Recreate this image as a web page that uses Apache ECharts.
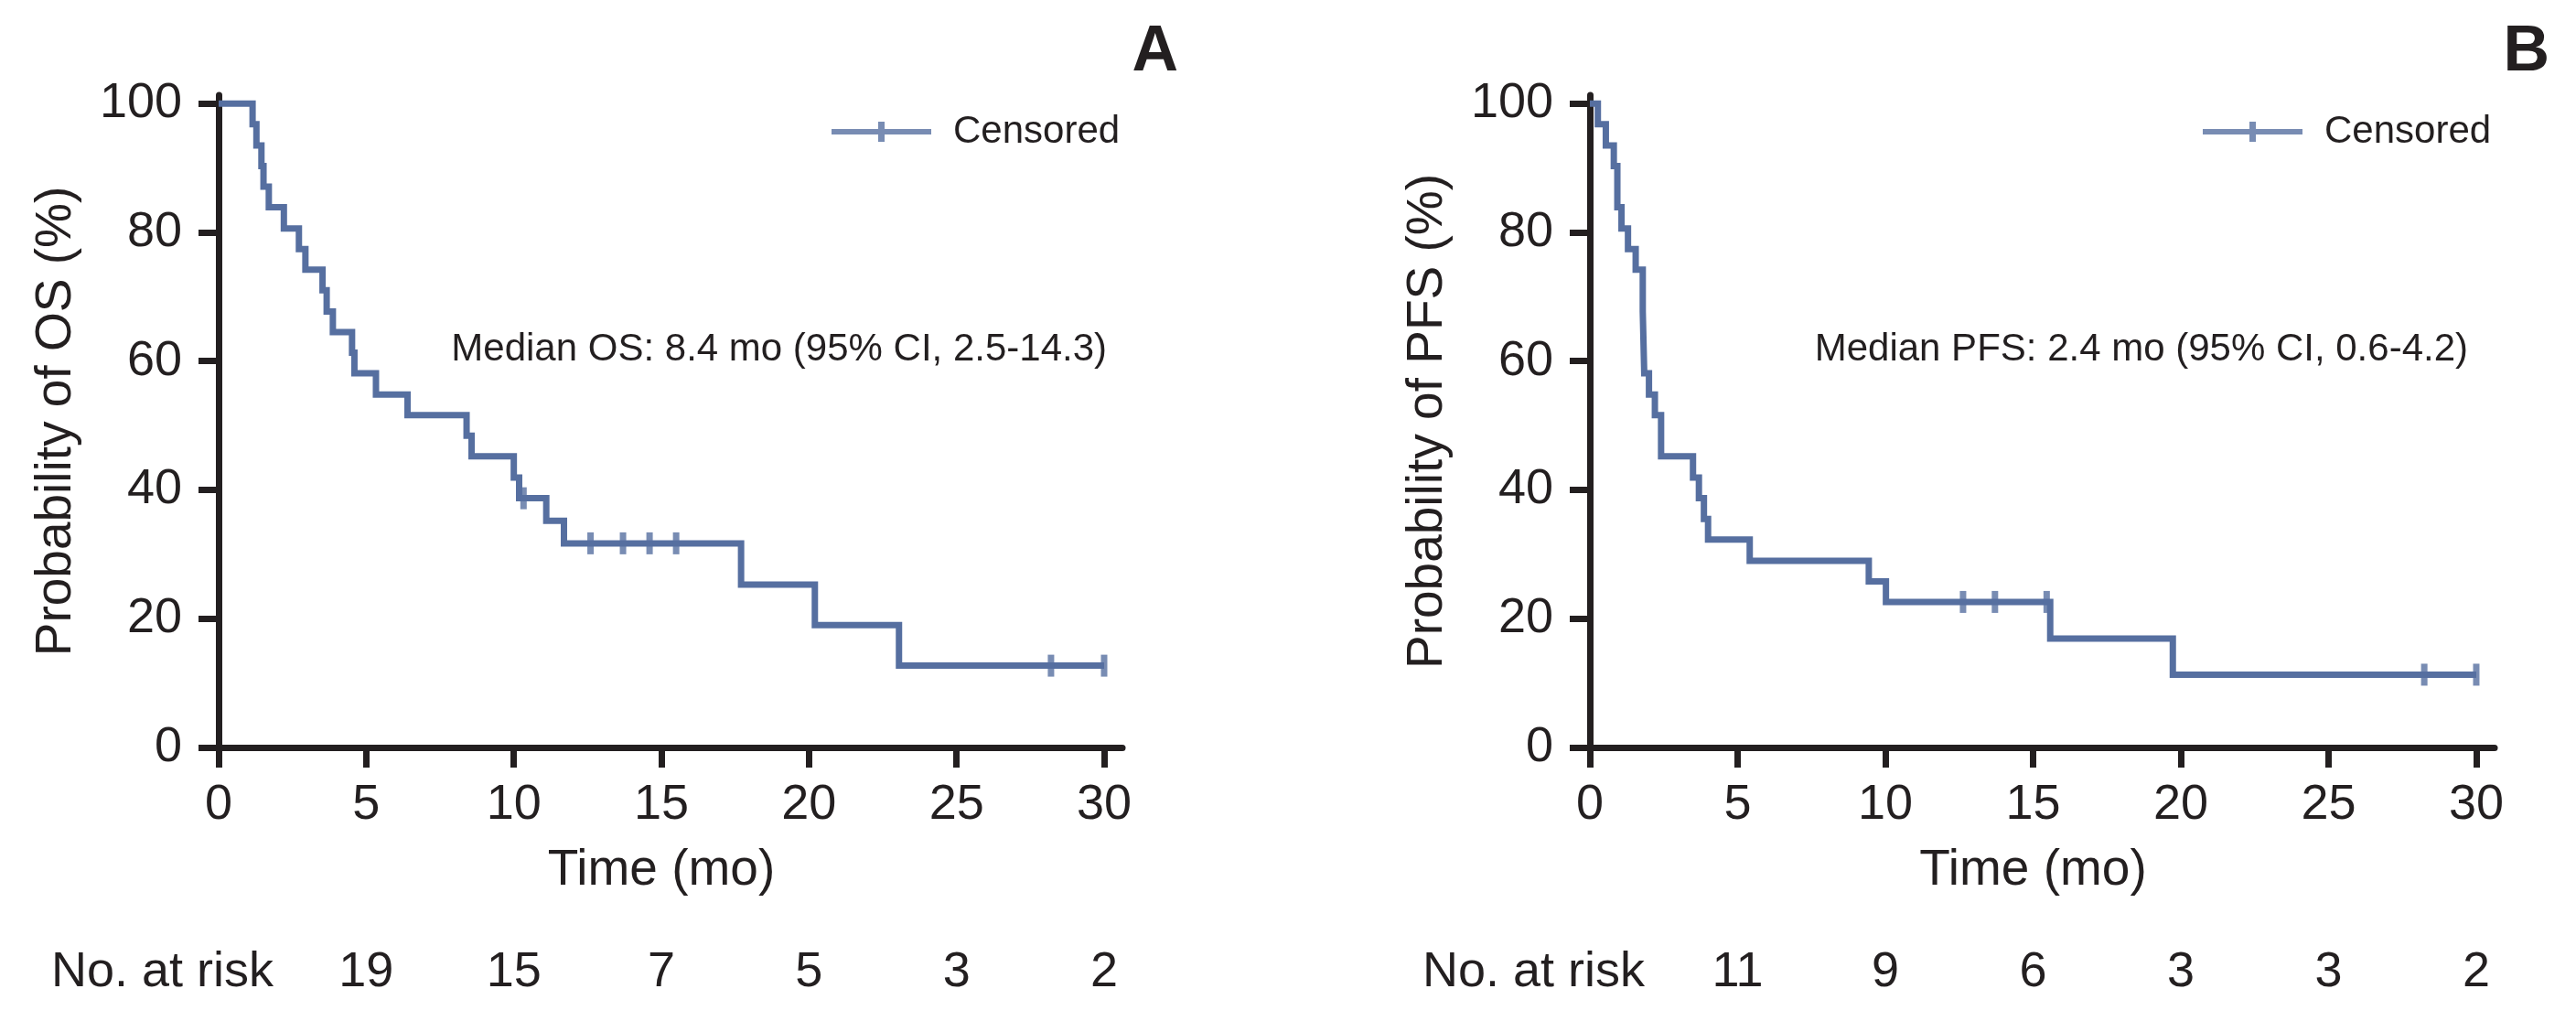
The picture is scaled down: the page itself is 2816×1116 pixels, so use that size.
<!DOCTYPE html>
<html>
<head>
<meta charset="utf-8">
<script src="https://cdn.jsdelivr.net/npm/echarts@6/dist/echarts.min.js"></script>
<style>
html,body{margin:0;padding:0;background:#fff;}
#chart{width:2816px;height:1116px;}
</style>
</head>
<body>
<div id="chart"></div>
<script>
// ---- Data ----
const xTicks = [0, 5, 10, 15, 20, 25, 30];
const yTicks = [0, 20, 40, 60, 80, 100];
const riskTicks = [5, 10, 15, 20, 25, 30];

// Panel A: overall survival
const osTimes = [0, 1.15, 1.28, 1.45, 1.52, 1.70, 2.21, 2.72, 2.94, 3.52, 3.66, 3.87, 4.52, 4.6, 5.33, 6.4, 8.4, 8.57, 10.0, 10.18, 11.1, 11.7, 17.7, 20.2, 23.05, 30];
const osSurv  = [100, 96.8, 93.5, 90.3, 87.1, 83.9, 80.6, 77.4, 74.2, 71.0, 67.7, 64.5, 61.3, 58.1, 54.8, 51.6, 48.4, 45.2, 41.9, 38.7, 35.2, 31.7, 25.3, 19.0, 12.7, 12.7];
const osCensorTimes = [10.33, 12.6, 13.7, 14.6, 15.5, 28.2, 30];
const osCensorSurv  = [38.7, 31.7, 31.7, 31.7, 31.7, 12.7, 12.7];
const osRisk = [19, 15, 7, 5, 3, 2];

// Panel B: progression-free survival
const pfsTimes = [0, 0.27, 0.54, 0.81, 0.93, 1.07, 1.29, 1.55, 1.79, 1.84, 2.0, 2.2, 2.41, 3.49, 3.69, 3.86, 4.0, 5.41, 9.44, 10.02, 15.58, 19.73, 30];
const pfsSurv  = [100, 96.8, 93.5, 90.3, 83.9, 80.6, 77.4, 74.2, 67.7, 58.1, 54.8, 51.6, 45.2, 41.9, 38.7, 35.5, 32.3, 29.0, 25.8, 22.6, 16.9, 11.3, 11.3];
const pfsCensorTimes = [12.63, 13.71, 15.46, 28.24, 30];
const pfsCensorSurv  = [22.6, 22.6, 22.6, 11.3, 11.3];
const pfsRisk = [11, 9, 6, 3, 3, 2];

const medianOS = 'Median OS: 8.4 mo (95% CI, 2.5-14.3)';
const medianPFS = 'Median PFS: 2.4 mo (95% CI, 0.6-4.2)';
const riskLabel = 'No. at risk';

// ---- Styling ----
const FONT = "'Liberation Sans', Arial, sans-serif";
const INK = '#231f20';
const CURVE = '#566fa0';
const AXW = 7;

const zip = (a, b) => a.map((v, i) => [v, b[i]]);

function mainX(grid) {
  return {
    type: 'value', gridIndex: grid, min: 0, max: 30.62,
    axisLine: { show: true, onZero: false, lineStyle: { color: INK, width: AXW } },
    axisTick: { show: true, length: 22, customValues: xTicks, lineStyle: { color: INK, width: AXW } },
    axisLabel: { show: true, customValues: xTicks, margin: 36, color: INK, fontFamily: FONT, fontSize: 54 },
    splitLine: { show: false },
    name: 'Time (mo)', nameLocation: 'middle', nameGap: 107, nameMoveOverlap: false,
    nameTextStyle: { color: INK, fontFamily: FONT, fontSize: 55, padding: [0, 20, 0, 0] }
  };
}
function riskX(grid, risk) {
  return {
    type: 'value', gridIndex: grid, min: 0, max: 30.62, position: 'bottom', offset: 245,
    axisLine: { show: false, onZero: false }, axisTick: { show: false }, splitLine: { show: false },
    axisLabel: {
      show: true, customValues: riskTicks, margin: -26, color: INK, fontFamily: FONT, fontSize: 54,
      formatter: v => String(risk[riskTicks.indexOf(Math.round(v))])
    }
  };
}
function mainY(grid, name) {
  return {
    type: 'value', gridIndex: grid, min: 0, max: 101.3,
    axisLine: { show: true, lineStyle: { color: INK, width: AXW } },
    axisTick: { show: true, length: 22, customValues: yTicks, lineStyle: { color: INK, width: AXW } },
    axisLabel: { show: true, customValues: yTicks, margin: 40, color: INK, fontFamily: FONT, fontSize: 54 },
    splitLine: { show: false },
    name: name, nameLocation: 'middle', nameGap: 150, nameMoveOverlap: false,
    nameTextStyle: { color: INK, fontFamily: FONT, fontSize: 55 }
  };
}

const legendIcon = 'path://M0,8h109v6h-109z M51,0h7v22h-7z';
function legend(left) {
  return {
    left: left, top: 123, padding: 0, itemWidth: 109, itemHeight: 22, itemGap: 0,
    data: [{ name: 'Censored', icon: legendIcon }],
    textStyle: { color: INK, fontFamily: FONT, fontSize: 42, padding: [0, 0, 0, 19] },
    selectedMode: false
  };
}
function txt(text, right, top, size, weight) {
  return { text: text, right: right, top: top, padding: 0,
    textStyle: { color: INK, fontFamily: FONT, fontSize: size, fontWeight: weight || 'normal' } };
}

const option = {
  backgroundColor: '#ffffff',
  animation: false,
  title: [
    txt('A', 1528, 23, 70, 'bold'),
    txt('B', 29, 23, 70, 'bold'),
    txt(medianOS, 1606, 361, 42),
    txt(medianPFS, 118, 361, 42),
    txt(riskLabel, 2517, 1036, 54),
    txt(riskLabel, 1018, 1036, 54)
  ],
  legend: [legend(909), legend(2408)],
  grid: [
    { left: 239, top: 104, width: 988, height: 713, containLabel: false, outerBoundsMode: 'none' },
    { left: 1738, top: 104, width: 989, height: 713, containLabel: false, outerBoundsMode: 'none' }
  ],
  xAxis: [mainX(0), riskX(0, osRisk), mainX(1), riskX(1, pfsRisk)],
  yAxis: [mainY(0, 'Probability of OS (%)'), mainY(1, 'Probability of PFS (%)')],
  series: [
    {
      type: 'line', name: 'OS', xAxisIndex: 0, yAxisIndex: 0, step: 'end',
      symbol: 'none', showSymbol: false, z: 3,
      lineStyle: { color: CURVE, width: 7, cap: 'butt', join: 'miter' },
      data: zip(osTimes, osSurv)
    },
    {
      type: 'scatter', name: 'Censored', xAxisIndex: 0, yAxisIndex: 0,
      symbol: 'rect', symbolSize: [7, 24], z: 4,
      itemStyle: { color: CURVE },
      data: zip(osCensorTimes, osCensorSurv)
    },
    {
      type: 'line', name: 'PFS', xAxisIndex: 2, yAxisIndex: 1, step: 'end',
      symbol: 'none', showSymbol: false, z: 3,
      lineStyle: { color: CURVE, width: 7, cap: 'butt', join: 'miter' },
      data: zip(pfsTimes, pfsSurv)
    },
    {
      type: 'scatter', name: 'Censored', xAxisIndex: 2, yAxisIndex: 1,
      symbol: 'rect', symbolSize: [7, 24], z: 4,
      itemStyle: { color: CURVE },
      data: zip(pfsCensorTimes, pfsCensorSurv)
    }
  ]
};

const chart = echarts.init(document.getElementById('chart'), null, { renderer: 'canvas' });
chart.setOption(option);
</script>
</body>
</html>
